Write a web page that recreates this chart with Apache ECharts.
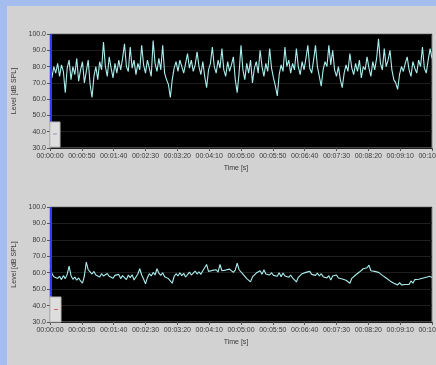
<!DOCTYPE html>
<html><head><meta charset="utf-8">
<script src="https://cdn.jsdelivr.net/npm/echarts@6/dist/echarts.min.js"></script>
<style>html,body{margin:0;padding:0;background:#a4bdee;}#c{width:436px;height:365px;}</style>
</head><body><div id="c"></div>
<script>
// sample step in seconds
var stepSec = 3;
var xTickSeconds = [0,50,100,150,200,250,300,350,400,450,500,550,600];
var yTicks = [30,40,50,60,70,80,90,100];
var levelTop = [88,73,80,76,82,74,81,77,64,79,84,72,80,75,85,71,78,83,70,77,84,69,61,74,80,72,83,78,95,80,74,86,79,73,82,76,84,78,85,94,80,77,92,79,84,75,82,78,93,81,76,84,79,74,96,82,77,85,78,93,76,72,69,61,72,79,83,77,84,80,76,82,88,79,84,77,81,89,80,75,83,74,67,78,82,92,80,76,84,79,91,78,74,83,77,81,86,72,64,76,93,78,72,82,76,84,70,79,83,76,90,80,74,82,77,91,79,73,68,62,75,81,77,92,80,84,76,82,78,91,80,75,83,78,85,93,79,76,84,93,80,74,68,78,83,80,93,81,90,78,74,80,72,67,76,81,77,88,79,75,82,77,84,73,80,78,86,79,74,83,78,85,97,82,78,91,80,84,90,78,72,70,66,75,80,77,82,86,78,74,83,79,76,84,80,92,79,76,84,91,85];
var levelBottom = [64.5,59.5,57.5,58.5,56.5,57.8,55.8,58.2,56.4,59.0,64.0,58.2,56.0,57.4,55.4,56.8,55.0,53.6,58.0,66.5,61.8,60.5,59.2,60.8,58.6,59.8,57.4,59.4,58.0,57.0,59.5,57.8,58.8,56.6,58.4,57.2,59.0,56.4,58.2,57.0,55.8,58.6,57.0,58.8,55.6,57.4,59.2,62.4,58.6,56.2,53.2,57.0,59.4,58.0,60.2,58.6,62.4,59.8,58.4,60.0,57.6,58.8,56.4,55.2,53.6,57.8,59.4,58.0,60.0,58.2,59.6,57.4,58.8,60.4,58.6,59.8,61.0,59.2,60.6,59.0,61.2,60.0,65.0,60.8,59.6,61.4,60.2,61.8,60.4,65.0,61.2,60.0,61.6,60.4,62.2,61.0,60.2,61.6,65.8,61.8,
  61.4,59.2,59.0,56.4,56.8,54.4,57.4,56.8,59.8,58.6,61.2,59.0,61.8,59.2,60.2,58.6,60.0,58.4,59.6,57.8,60.0,57.6,59.8,58.0,59.2,57.2,58.6,56.8,56.0,54.4,57.2,56.6,59.4,58.4,60.2,59.2,60.8,59.0,60.2,58.4,59.8,58.0,59.4,57.6,58.8,56.8,58.2,55.5,58.0,57.0,58.6,56.8,58.0,56.2,57.2,55.4,56.4,53.6,56.6,55.8,58.6,57.8,60.4,59.6,62.4,61.2,63.0,64.6,61.2,62.4,60.8,62.0,60.2,61.2,58.4,59.4,56.8,57.6,55.0,56.0,53.6,54.6,52.6,54.0,52.6,53.8,52.8,54.0,52.8,55.0,53.6,55.8,54.8,56.0,55.2,56.6,55.8,57.2,56.4,57.8,57.0];

function pairs(arr){ return arr.map(function(v,i){ return [i*stepSec, v]; }); }
function hms(s){ var h=Math.floor(s/3600), m=Math.floor((s%3600)/60), ss=s%60;
  function p(n){ return (n<10?'0':'')+n; } return p(h)+':'+p(m)+':'+p(ss); }

var chart = echarts.init(document.getElementById('c'), null, {renderer:'canvas'});
var txt = '#3a3a3a';
var font = 'Liberation Sans';
function xAx(idx){ return {
  type:'value', gridIndex:idx, min:0, max:600, interval:50,
  name:'Time [s]', nameLocation:'middle', nameGap:17,
  nameTextStyle:{color:txt, fontSize:7, fontFamily:font, padding:[0,10,0,0]},
  axisLine:{show:false},
  axisTick:{show:true, length:3, lineStyle:{color:'#555'}},
  axisLabel:{color:txt, fontSize:7, fontFamily:font, margin:5, hideOverlap:false, formatter:function(v){return hms(v);}},
  splitLine:{show:false}
};}
function yAx(idx){ return {
  type:'value', gridIndex:idx, min:30, max:100, interval:10,
  name:'Level [dB SPL]', nameLocation:'middle', nameGap:25,
  nameTextStyle:{color:txt, fontSize:7, fontFamily:font},
  axisLine:{show:false},
  axisTick:{show:true, length:3, lineStyle:{color:'#555'}},
  axisLabel:{color:txt, fontSize:7, fontFamily:font, margin:4, formatter:function(v){return v.toFixed(1);}},
  splitLine:{show:true, lineStyle:{color:'#1e1e1e', width:1}}
};}
var lineStyle = {color:'#aaeeee', width:1.1};
chart.setOption({
  backgroundColor:'#a4bdee',
  animation:false,
  graphic:[
    {type:'rect', z:-10, shape:{x:7,y:6,width:429,height:359}, style:{fill:'#d2d2d2'}},
    {type:'rect', z:10, shape:{x:50,y:34,width:2,height:88}, style:{fill:'#2d3cf0'}},
    {type:'rect', z:10, shape:{x:50,y:122,width:10,height:25}, style:{fill:'#dedede', stroke:'#b8b8b8', lineWidth:1}},
    {type:'rect', z:11, shape:{x:53,y:133,width:4,height:2}, style:{fill:'#b9b9c9'}},
    {type:'rect', z:10, shape:{x:50,y:207,width:2,height:90}, style:{fill:'#2d3cf0'}},
    {type:'rect', z:10, shape:{x:50,y:297,width:11,height:25}, style:{fill:'#dedede', stroke:'#b8b8b8', lineWidth:1}},
    {type:'rect', z:11, shape:{x:54,y:309,width:4,height:1}, style:{fill:'#d06060'}}
  ],
  grid:[
    {left:50, top:34, width:382, height:114, show:true, backgroundColor:'#000', borderColor:'#8a8a8a', borderWidth:1, containLabel:false, outerBoundsMode:'none'},
    {left:50, top:207, width:382, height:115, show:true, backgroundColor:'#000', borderColor:'#8a8a8a', borderWidth:1, containLabel:false, outerBoundsMode:'none'}
  ],
  xAxis:[xAx(0), xAx(1)],
  yAxis:[yAx(0), yAx(1)],
  series:[
    {type:'line', xAxisIndex:0, yAxisIndex:0, data:pairs(levelTop), showSymbol:false, lineStyle:lineStyle},
    {type:'line', xAxisIndex:1, yAxisIndex:1, data:pairs(levelBottom), showSymbol:false, lineStyle:lineStyle}
  ]
});
</script></body></html>
